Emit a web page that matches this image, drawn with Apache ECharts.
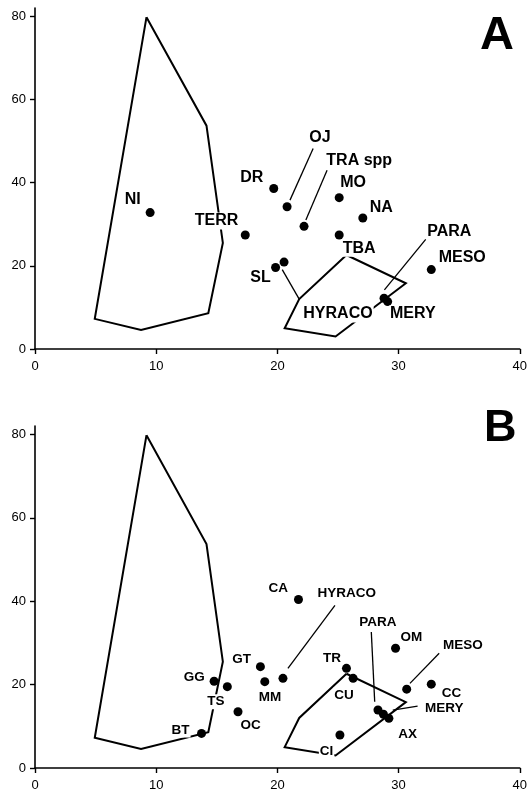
<!DOCTYPE html>
<html>
<head>
<meta charset="utf-8">
<script src="https://cdn.jsdelivr.net/npm/echarts@6/dist/echarts.min.js"></script>
<style>
html,body{margin:0;padding:0;background:#fff;}
#c{width:530px;height:794px;}
</style>
</head>
<body>
<div id="c"></div>
<script>
// ---------- data ----------
const xTicks = [0, 10, 20, 30, 40];
const yTicks = [0, 20, 40, 60, 80];

// convex hulls (same in both panels)
const hullLarge = [[9.2,79.8],[14.15,53.7],[15.5,25.5],[14.3,8.6],[8.75,4.55],[4.93,7.25],[9.2,79.8]];
const hullSmall = [[25.7,22.6],[30.6,15.8],[24.8,3.0],[20.6,5.0],[21.8,12.0],[25.7,22.6]];

// Panel A points: [name, x, y]
const pointsA = [
  ['NI', 9.5, 32.8], ['TERR', 17.35, 27.4], ['DR', 19.7, 38.6], ['OJ', 20.8, 34.2],
  ['TRA spp', 22.2, 29.5], ['MO', 25.1, 36.4], ['TBA', 25.1, 27.4], ['NA', 27.05, 31.5],
  ['MESO', 32.7, 19.1], ['PARA', 28.8, 12.2], ['MERY', 29.1, 11.4],
  ['SL', 19.85, 19.6], ['HYRACO', 20.55, 20.9]
];
// Panel A label anchors: [text, x, y]
const labelsA = [
  ['NI', 8.07, 36.0], ['TERR', 14.98, 30.8], ['DR', 17.89, 41.3], ['OJ', 23.52, 50.9],
  ['TRA spp', 26.75, 45.4], ['MO', 26.25, 39.9], ['NA', 28.58, 34.0], ['TBA', 26.75, 24.2],
  ['PARA', 34.18, 28.35], ['MESO', 35.25, 22.0], ['SL', 18.61, 17.06],
  ['HYRACO', 25.0, 8.4], ['MERY', 31.17, 8.4]
];
// Panel A leader lines: [x1, y1, x2, y2]
const leadersA = [
  [22.95, 48.2, 21.04, 35.8],
  [24.1, 43.0, 22.35, 31.0],
  [20.4, 19.1, 21.8, 12.0],
  [32.24, 26.35, 28.83, 14.2]
];

// Panel B points
const pointsB = [
  ['CA', 21.74, 40.4], ['HYRACO', 20.46, 21.5], ['GT', 18.6, 24.3], ['GG', 14.78, 20.8],
  ['TS', 15.87, 19.5], ['MM', 18.96, 20.7], ['OC', 16.75, 13.5], ['BT', 13.74, 8.3],
  ['TR', 25.7, 23.9], ['CU', 26.25, 21.5], ['CI', 25.16, 7.9], ['OM', 29.75, 28.7],
  ['MESO', 30.67, 18.9], ['CC', 32.7, 20.1], ['PARA', 28.3, 13.9], ['MERY', 28.75, 12.9],
  ['AX', 29.2, 11.9]
];
const labelsB = [
  ['CA', 20.08, 43.04], ['HYRACO', 25.72, 41.9], ['GT', 17.04, 26.04], ['GG', 13.15, 21.87],
  ['TS', 14.92, 15.88], ['MM', 19.39, 16.84], ['OC', 17.79, 10.3], ['BT', 12.01, 9.1],
  ['TR', 24.5, 26.28], ['CU', 25.5, 17.48], ['CI', 24.06, 3.9], ['PARA', 28.3, 34.97],
  ['OM', 31.06, 31.45], ['MESO', 35.3, 29.4], ['CC', 34.37, 17.8], ['MERY', 33.76, 14.37],
  ['AX', 30.75, 8.2]
];
const leadersB = [
  [24.75, 39.0, 20.87, 23.9],
  [27.75, 32.6, 28.03, 15.9],
  [33.35, 27.5, 30.94, 20.3],
  [31.57, 14.85, 29.52, 13.9]
];

// ---------- chart ----------
const FONT = '"Liberation Sans", Arial, sans-serif';
const chart = echarts.init(document.getElementById('c'), null, {renderer: 'canvas'});

function xAxisDef(gi) {
  return {
    type: 'value', gridIndex: gi, min: 0, max: 40, interval: 10,
    splitLine: {show: false},
    axisLine: {show: true, onZero: false, lineStyle: {color: '#000', width: 1.6}},
    axisTick: {show: true, length: 5, lineStyle: {color: '#000', width: 1.4}},
    axisLabel: {color: '#000', fontSize: 13, fontFamily: FONT, margin: 11}
  };
}
function yAxisDef(gi) {
  return {
    type: 'value', gridIndex: gi, min: 0, max: 82, interval: 20,
    splitLine: {show: false},
    axisLine: {show: true, onZero: false, lineStyle: {color: '#000', width: 1.6}},
    axisTick: {show: true, length: 5, customValues: yTicks, lineStyle: {color: '#000', width: 1.4}},
    axisLabel: {color: '#000', fontSize: 13, fontFamily: FONT, margin: 9, customValues: yTicks}
  };
}

function panelSeries(gi, points, labels, leaders, fs) {
  return [
    {
      type: 'lines', coordinateSystem: 'cartesian2d', xAxisIndex: gi, yAxisIndex: gi,
      polyline: true, silent: true, z: 1,
      lineStyle: {color: '#000', width: 2, opacity: 1},
      data: [{coords: hullLarge}, {coords: hullSmall}]
    },
    {
      type: 'lines', coordinateSystem: 'cartesian2d', xAxisIndex: gi, yAxisIndex: gi,
      silent: true, z: 1,
      lineStyle: {color: '#000', width: 1.3, opacity: 1},
      data: leaders.map(l => ({coords: [[l[0], l[1]], [l[2], l[3]]]}))
    },
    {
      type: 'scatter', xAxisIndex: gi, yAxisIndex: gi, z: 3,
      symbol: 'circle', symbolSize: 9,
      itemStyle: {color: '#000', opacity: 1},
      data: points.map(p => ({name: p[0], value: [p[1], p[2]]}))
    },
    {
      type: 'scatter', xAxisIndex: gi, yAxisIndex: gi, z: 4,
      symbol: 'circle', symbolSize: 1,
      itemStyle: {color: 'rgba(0,0,0,0)', opacity: 1},
      label: {
        show: true, position: 'inside', formatter: '{b}', opacity: 1,
        color: '#000', fontSize: fs, fontWeight: 'bold', fontFamily: FONT,
        backgroundColor: '#fff', padding: [1, 1, 0, 1]
      },
      data: labels.map(l => ({name: l[0], value: [l[1], l[2]]}))
    }
  ];
}

chart.setOption({
  animation: false,
  backgroundColor: '#fff',
  grid: [
    {left: 35, right: 7, top: 8, bottom: 445},
    {left: 35, right: 7, top: 426, bottom: 26}
  ],
  xAxis: [xAxisDef(0), xAxisDef(1)],
  yAxis: [yAxisDef(0), yAxisDef(1)],
  graphic: [
    {type: 'text', left: 480, top: 13, style: {text: 'A', font: 'bold 47px ' + FONT, fill: '#000'}},
    {type: 'text', left: 484, top: 406, style: {text: 'B', font: 'bold 45px ' + FONT, fill: '#000'}}
  ],
  series: [].concat(
    panelSeries(0, pointsA, labelsA, leadersA, 16),
    panelSeries(1, pointsB, labelsB, leadersB, 13.5)
  )
});
</script>
</body>
</html>
